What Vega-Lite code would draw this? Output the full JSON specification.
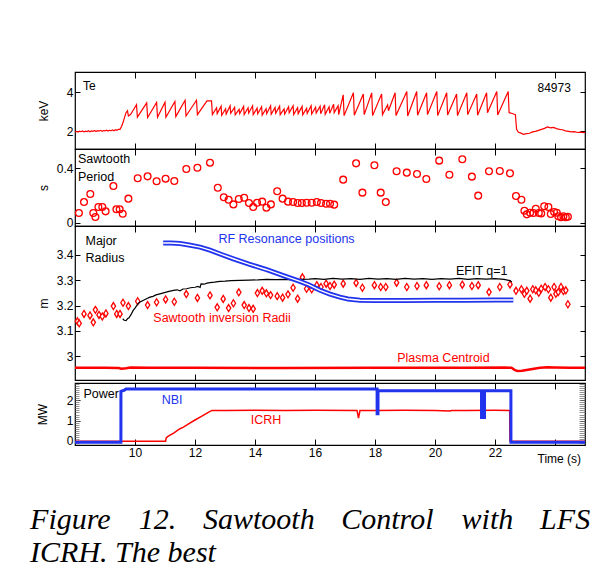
{
  "$schema": "https://vega.github.io/schema/vega-lite/v6.json",
  "padding": {"left": 30, "top": 70, "right": 5, "bottom": 5},
  "background": "white",
  "spacing": 0,
  "bounds": "flush",
  "datasets": {
    "te": [
      {"t":8.00,"v":1.97},{"t":8.05,"v":2.00},{"t":8.10,"v":1.96},{"t":8.15,"v":2.01},{"t":8.20,"v":1.98},{"t":8.25,"v":2.02},{"t":8.30,"v":1.97},{"t":8.35,"v":2.01},{"t":8.40,"v":1.99},{"t":8.45,"v":2.03},{"t":8.50,"v":1.98},{"t":8.55,"v":2.02},{"t":8.60,"v":2.00},{"t":8.65,"v":2.04},{"t":8.70,"v":1.99},{"t":8.75,"v":2.03},{"t":8.80,"v":2.01},{"t":8.85,"v":2.05},{"t":8.90,"v":2.00},{"t":8.95,"v":2.04},{"t":9.00,"v":2.02},{"t":9.05,"v":2.06},{"t":9.10,"v":2.01},{"t":9.15,"v":2.05},{"t":9.20,"v":2.03},{"t":9.25,"v":2.07},{"t":9.30,"v":2.03},{"t":9.35,"v":2.08},{"t":9.40,"v":2.05},{"t":9.45,"v":2.10},{"t":9.50,"v":2.10},
      {"t":9.55,"v":2.25},{"t":9.60,"v":2.45},{"t":9.65,"v":2.70},{"t":9.70,"v":2.95},{"t":9.75,"v":3.05},{"t":9.78,"v":2.78},{"t":9.85,"v":2.85},{"t":9.95,"v":3.10},{"t":10.05,"v":3.36},{"t":10.08,"v":2.72},{"t":10.39,"v":3.45},{"t":10.42,"v":2.70},{"t":10.72,"v":3.47},{"t":10.75,"v":2.72},{"t":11.00,"v":3.48},{"t":11.03,"v":2.72},{"t":11.33,"v":3.52},{"t":11.36,"v":2.75},{"t":11.67,"v":3.58},{"t":11.70,"v":2.78},{"t":12.05,"v":3.58},{"t":12.08,"v":2.85},{"t":12.40,"v":3.55},{"t":12.55,"v":3.55},{"t":12.58,"v":2.85},
      {"t":12.72,"v":3.20},{"t":12.74,"v":2.90},{"t":12.87,"v":3.28},{"t":12.89,"v":2.82},{"t":13.02,"v":3.15},{"t":13.04,"v":2.88},{"t":13.17,"v":3.30},{"t":13.19,"v":2.92},{"t":13.32,"v":3.22},{"t":13.34,"v":2.84},{"t":13.47,"v":3.12},{"t":13.49,"v":2.90},{"t":13.62,"v":3.27},{"t":13.64,"v":2.86},{"t":13.77,"v":3.20},{"t":13.79,"v":2.93},{"t":13.92,"v":3.30},{"t":13.94,"v":2.85},{"t":14.07,"v":3.18},{"t":14.09,"v":2.89},{"t":14.22,"v":3.25},{"t":14.24,"v":2.83},{"t":14.37,"v":3.15},{"t":14.39,"v":2.90},{"t":14.52,"v":3.30},{"t":14.54,"v":2.87},{"t":14.67,"v":3.22},{"t":14.69,"v":2.92},{"t":14.82,"v":3.28},{"t":14.84,"v":2.85},{"t":14.97,"v":3.14},{"t":14.99,"v":2.88},{"t":15.12,"v":3.25},{"t":15.14,"v":2.94},{"t":15.27,"v":3.30},{"t":15.29,"v":2.86},{"t":15.42,"v":3.20},{"t":15.44,"v":2.90},{"t":15.57,"v":3.27},{"t":15.59,"v":2.84},{"t":15.72,"v":3.17},{"t":15.74,"v":2.91},{"t":15.87,"v":3.30},{"t":15.89,"v":2.88},{"t":16.02,"v":3.23},{"t":16.04,"v":2.93},{"t":16.17,"v":3.28},{"t":16.19,"v":2.90},{"t":16.32,"v":3.35},{"t":16.34,"v":2.87},{"t":16.47,"v":3.25},{"t":16.49,"v":2.92},{"t":16.62,"v":3.38},{"t":16.64,"v":2.95},{"t":16.77,"v":3.30},{"t":16.79,"v":2.85},
      {"t":16.94,"v":3.86},{"t":16.97,"v":2.80},{"t":17.28,"v":3.96},{"t":17.31,"v":2.82},{"t":17.61,"v":3.90},{"t":17.64,"v":2.85},{"t":17.89,"v":3.96},{"t":17.92,"v":2.80},{"t":18.22,"v":3.90},{"t":18.25,"v":2.85},{"t":18.42,"v":3.35},{"t":18.45,"v":3.05},{"t":18.67,"v":3.96},{"t":18.70,"v":2.80},{"t":19.06,"v":4.03},{"t":19.09,"v":2.78},{"t":19.39,"v":4.03},{"t":19.42,"v":2.82},{"t":19.72,"v":3.96},{"t":19.75,"v":2.85},{"t":20.06,"v":4.03},{"t":20.09,"v":2.80},{"t":20.39,"v":3.96},{"t":20.42,"v":2.83},{"t":20.72,"v":3.90},{"t":20.75,"v":2.80},{"t":21.06,"v":3.96},{"t":21.09,"v":2.85},{"t":21.39,"v":3.90},{"t":21.42,"v":2.82},{"t":21.72,"v":3.96},{"t":21.75,"v":2.95},{"t":22.06,"v":4.03},{"t":22.09,"v":2.83},{"t":22.44,"v":4.03},{"t":22.47,"v":2.95},
      {"t":22.55,"v":2.92},{"t":22.62,"v":2.88},{"t":22.68,"v":2.85},{"t":22.72,"v":2.10},{"t":22.78,"v":1.95},{"t":22.85,"v":1.92},{"t":22.95,"v":1.85},{"t":23.05,"v":1.88},{"t":23.15,"v":1.90},{"t":23.25,"v":1.97},{"t":23.35,"v":2.00},{"t":23.45,"v":2.05},{"t":23.55,"v":2.10},{"t":23.65,"v":2.15},{"t":23.75,"v":2.22},{"t":23.85,"v":2.18},{"t":23.95,"v":2.20},{"t":24.05,"v":2.14},{"t":24.15,"v":2.10},{"t":24.25,"v":2.08},{"t":24.35,"v":2.02},{"t":24.45,"v":2.00},{"t":24.55,"v":1.97},{"t":24.65,"v":1.98},{"t":24.75,"v":1.94},{"t":24.85,"v":1.96},{"t":24.95,"v":1.93},{"t":25.00,"v":1.95}
    ],
    "period": [
      {"t":8.13,"v":0.071},{"t":8.3,"v":0.151},{"t":8.51,"v":0.21},{"t":8.61,"v":0.071},{"t":8.68,"v":0.042},{"t":8.78,"v":0.115},{"t":8.91,"v":0.115},{"t":9.02,"v":0.083},{"t":9.28,"v":0.268},{"t":9.38,"v":0.098},{"t":9.49,"v":0.098},{"t":9.59,"v":0.066},{"t":9.78,"v":0.176},{"t":10.09,"v":0.325},{"t":10.42,"v":0.339},{"t":10.72,"v":0.303},{"t":11.02,"v":0.322},{"t":11.31,"v":0.305},{"t":11.71,"v":0.393},{"t":12.08,"v":0.402},{"t":12.5,"v":0.439},{"t":12.76,"v":0.256},{"t":12.96,"v":0.186},{"t":13.12,"v":0.168},{"t":13.28,"v":0.134},{"t":13.46,"v":0.173},{"t":13.64,"v":0.183},{"t":13.8,"v":0.144},{"t":13.94,"v":0.115},{"t":14.07,"v":0.146},{"t":14.24,"v":0.154},{"t":14.38,"v":0.11},{"t":14.53,"v":0.134},{"t":14.74,"v":0.23},{"t":14.92,"v":0.176},{"t":15.1,"v":0.154},{"t":15.27,"v":0.151},{"t":15.42,"v":0.144},
      {"t":15.56,"v":0.144},{"t":15.72,"v":0.146},{"t":15.89,"v":0.146},{"t":16.06,"v":0.151},{"t":16.2,"v":0.144},{"t":16.37,"v":0.139},{"t":16.5,"v":0.139},{"t":16.64,"v":0.132},{"t":16.94,"v":0.315},{"t":17.37,"v":0.434},{"t":17.58,"v":0.22},{"t":17.98,"v":0.42},{"t":18.19,"v":0.22},{"t":18.36,"v":0.151},{"t":18.72,"v":0.376},{"t":19.06,"v":0.366},{"t":19.4,"v":0.356},{"t":19.71,"v":0.32},{"t":20.14,"v":0.454},{"t":20.48,"v":0.351},{"t":20.91,"v":0.464},{"t":21.23,"v":0.337},{"t":21.44,"v":0.198},{"t":21.8,"v":0.376},{"t":22.16,"v":0.378},{"t":22.5,"v":0.361},{"t":22.7,"v":0.195},{"t":22.88,"v":0.168},{"t":22.98,"v":0.088},{"t":23.06,"v":0.061},{"t":23.17,"v":0.073},{"t":23.28,"v":0.071},{"t":23.36,"v":0.102},{"t":23.46,"v":0.071},{"t":23.54,"v":0.068},{"t":23.64,"v":0.12},{"t":23.78,"v":0.115},{"t":23.86,"v":0.064},{"t":23.97,"v":0.078},{"t":24.06,"v":0.073},{"t":24.11,"v":0.047},{"t":24.2,"v":0.04},{"t":24.28,"v":0.047},{"t":24.36,"v":0.04},{"t":24.43,"v":0.044}
    ],
    "inv": [
      {"t":8.08,"v":3.138},{"t":8.14,"v":3.13},{"t":8.3,"v":3.167},{"t":8.5,"v":3.161},{"t":8.61,"v":3.134},{"t":8.68,"v":3.183},{"t":8.8,"v":3.163},{"t":8.91,"v":3.157},{"t":9.03,"v":3.169},{"t":9.28,"v":3.198},{"t":9.39,"v":3.167},{"t":9.5,"v":3.167},{"t":9.6,"v":3.211},{"t":9.78,"v":3.198},{"t":10.09,"v":3.217},{"t":10.42,"v":3.202},{"t":10.72,"v":3.213},{"t":11.02,"v":3.224},{"t":11.31,"v":3.215},{"t":11.71,"v":3.245},{"t":12.08,"v":3.23},{"t":12.5,"v":3.24},{"t":12.74,"v":3.193},{"t":12.94,"v":3.226},{"t":13.12,"v":3.19},{"t":13.28,"v":3.209},{"t":13.46,"v":3.252},{"t":13.64,"v":3.202},{"t":13.8,"v":3.19},{"t":13.94,"v":3.187},{"t":14.08,"v":3.249},{"t":14.24,"v":3.258},{"t":14.38,"v":3.248},{"t":14.52,"v":3.241},{"t":14.74,"v":3.237},{"t":14.92,"v":3.231},{"t":15.1,"v":3.244},{"t":15.27,"v":3.27},{"t":15.42,"v":3.227},{"t":15.58,"v":3.311},{"t":15.72,"v":3.266},{"t":15.89,"v":3.264},{"t":16.06,"v":3.28},{"t":16.2,"v":3.273},{"t":16.37,"v":3.286},{"t":16.5,"v":3.277},{"t":16.64,"v":3.282},{"t":16.94,"v":3.286},{"t":17.37,"v":3.289},{"t":17.58,"v":3.27},{"t":17.98,"v":3.28},{"t":18.19,"v":3.273},{"t":18.36,"v":3.273},{"t":18.72,"v":3.29},{"t":19.06,"v":3.273},{"t":19.4,"v":3.277},{"t":19.71,"v":3.28},{"t":20.14,"v":3.276},{"t":20.48,"v":3.28},{"t":20.91,"v":3.282},{"t":21.23,"v":3.277},{"t":21.44,"v":3.28},{"t":21.8,"v":3.253},{"t":22.16,"v":3.273},{"t":22.5,"v":3.283},{"t":22.7,"v":3.258},{"t":22.88,"v":3.264},{"t":22.98,"v":3.246},{"t":23.06,"v":3.258},{"t":23.17,"v":3.227},{"t":23.26,"v":3.264},{"t":23.36,"v":3.26},{"t":23.46,"v":3.25},{"t":23.54,"v":3.266},{"t":23.67,"v":3.273},{"t":23.78,"v":3.264},{"t":23.86,"v":3.231},{"t":23.97,"v":3.273},{"t":24.03,"v":3.246},{"t":24.11,"v":3.253},{"t":24.2,"v":3.273},{"t":24.28,"v":3.257},{"t":24.36,"v":3.26},{"t":24.43,"v":3.205}
    ],
    "efit": [
      {"t":9.59,"v":3.148},{"t":9.64,"v":3.142},{"t":9.7,"v":3.141},{"t":9.75,"v":3.148},{"t":9.8,"v":3.152},{"t":9.87,"v":3.165},{"t":9.94,"v":3.181},{"t":10.0,"v":3.19},{"t":10.1,"v":3.207},{"t":10.17,"v":3.214},{"t":10.3,"v":3.222},{"t":10.4,"v":3.228},{"t":10.5,"v":3.233},{"t":10.6,"v":3.236},{"t":10.7,"v":3.242},{"t":10.83,"v":3.246},{"t":10.95,"v":3.25},{"t":11.1,"v":3.255},{"t":11.28,"v":3.26},{"t":11.4,"v":3.262},{"t":11.5,"v":3.258},{"t":11.6,"v":3.265},{"t":11.72,"v":3.266},{"t":11.85,"v":3.27},{"t":12.0,"v":3.272},{"t":12.1,"v":3.275},{"t":12.17,"v":3.271},{"t":12.2,"v":3.285},{"t":12.3,"v":3.284},{"t":12.4,"v":3.288},{"t":12.5,"v":3.29},{"t":12.65,"v":3.292},{"t":12.83,"v":3.295},{"t":13.0,"v":3.296},{"t":13.2,"v":3.298},{"t":13.5,"v":3.299},{"t":13.8,"v":3.3},{"t":14.1,"v":3.301},{"t":14.39,"v":3.303},{"t":14.7,"v":3.302},{"t":15.0,"v":3.303},{"t":15.3,"v":3.302},{"t":15.5,"v":3.303},{"t":15.8,"v":3.304},{"t":16.0,"v":3.306},{"t":16.3,"v":3.303},{"t":16.6,"v":3.307},{"t":16.9,"v":3.304},{"t":17.2,"v":3.306},{"t":17.5,"v":3.303},{"t":17.8,"v":3.307},{"t":18.1,"v":3.304},{"t":18.4,"v":3.306},{"t":18.7,"v":3.303},{"t":19.0,"v":3.307},{"t":19.3,"v":3.304},{"t":19.6,"v":3.306},{"t":19.9,"v":3.303},{"t":20.2,"v":3.306},{"t":20.5,"v":3.304},{"t":20.8,"v":3.307},{"t":21.1,"v":3.303},{"t":21.4,"v":3.306},{"t":21.7,"v":3.304},{"t":22.0,"v":3.306},{"t":22.3,"v":3.303},{"t":22.5,"v":3.298},{"t":22.56,"v":3.293}
    ],
    "rf": [
      {"t":10.94,"v":3.446},{"t":11.2,"v":3.446},{"t":11.5,"v":3.444},{"t":11.8,"v":3.438},{"t":12.17,"v":3.43},{"t":12.5,"v":3.418},{"t":12.9,"v":3.4},{"t":13.28,"v":3.384},{"t":13.8,"v":3.363},{"t":14.39,"v":3.341},{"t":14.9,"v":3.32},{"t":15.5,"v":3.295},{"t":15.8,"v":3.281},{"t":16.17,"v":3.26},{"t":16.5,"v":3.245},{"t":16.83,"v":3.233},{"t":17.1,"v":3.226},{"t":17.5,"v":3.221},{"t":18.0,"v":3.22},{"t":19.0,"v":3.22},{"t":20.0,"v":3.221},{"t":21.0,"v":3.221},{"t":22.0,"v":3.222},{"t":22.61,"v":3.222}
    ],
    "cent": [
      {"t":8.0,"v":2.955},{"t":9.0,"v":2.955},{"t":9.45,"v":2.954},{"t":9.55,"v":2.951},{"t":9.7,"v":2.953},{"t":9.85,"v":2.956},{"t":10.5,"v":2.955},{"t":12.0,"v":2.955},{"t":15.0,"v":2.954},{"t":18.0,"v":2.955},{"t":21.0,"v":2.955},{"t":22.3,"v":2.956},{"t":22.55,"v":2.955},{"t":22.65,"v":2.947},{"t":22.75,"v":2.942},{"t":22.9,"v":2.943},{"t":23.2,"v":2.949},{"t":23.5,"v":2.955},{"t":23.75,"v":2.957},{"t":24.0,"v":2.956},{"t":24.5,"v":2.955},{"t":25.0,"v":2.955}
    ],
    "nbi": [
      {"t":8.0,"v":-0.06},{"t":9.53,"v":-0.06},{"t":9.531,"v":2.44},{"t":9.65,"v":2.5},{"t":9.7,"v":2.55},{"t":18.07,"v":2.56},{"t":18.071,"v":1.34},{"t":18.1,"v":1.34},{"t":18.101,"v":2.47},{"t":21.55,"v":2.47},{"t":21.551,"v":1.15},{"t":21.58,"v":1.15},{"t":21.581,"v":2.47},{"t":21.62,"v":2.47},{"t":21.621,"v":1.15},{"t":21.65,"v":1.15},{"t":21.651,"v":2.47},{"t":22.53,"v":2.47},{"t":22.531,"v":-0.06},{"t":25.0,"v":-0.06}
    ],
    "icrh": [
      {"t":8.0,"v":-0.02},{"t":11.02,"v":-0.02},{"t":11.04,"v":0.15},{"t":11.1,"v":0.22},{"t":11.3,"v":0.4},{"t":11.5,"v":0.6},{"t":11.6,"v":0.67},{"t":11.8,"v":0.85},{"t":12.0,"v":1.03},{"t":12.2,"v":1.2},{"t":12.4,"v":1.37},{"t":12.56,"v":1.5},{"t":13.0,"v":1.5},{"t":14.0,"v":1.51},{"t":15.0,"v":1.5},{"t":16.0,"v":1.51},{"t":17.4,"v":1.5},{"t":17.45,"v":1.12},{"t":17.5,"v":1.5},{"t":18.0,"v":1.5},{"t":19.0,"v":1.51},{"t":20.0,"v":1.5},{"t":20.5,"v":1.47},{"t":20.55,"v":1.5},{"t":21.0,"v":1.5},{"t":22.0,"v":1.51},{"t":22.49,"v":1.5},{"t":22.5,"v":-0.02},{"t":25.0,"v":-0.02}
    ]
  },
  "vconcat": [
    {
      "width": 510, "height": 77,
      "resolve": {"axis": {"x": "independent", "y": "independent"}},
      "layer": [
        {
          "data": {"name": "te"},
          "mark": {"type": "line", "color": "#ff0000", "strokeWidth": 1.2},
          "encoding": {
            "x": {"field": "t", "type": "quantitative", "scale": {"domain": [8, 25], "nice": false, "zero": false},
                  "axis": {"orient": "bottom", "values": [10,12,14,16,18,20,22,24], "tickSize": -6, "labels": false, "title": null}},
            "y": {"field": "v", "type": "quantitative", "scale": {"domain": [1.1, 5.02], "nice": false, "zero": false},
                  "axis": {"orient": "left", "values": [2,4], "tickSize": -5, "labelPadding": 7, "title": "keV", "titleX": -32, "titleBaseline": "middle"}}
          }
        },
        {
          "data": {"name": "te"},
          "mark": {"type": "line", "opacity": 0},
          "encoding": {
            "x": {"field": "t", "type": "quantitative", "axis": {"orient": "top", "values": [10,12,14,16,18,20,22,24], "tickSize": -6, "labels": false, "title": null}},
            "y": {"field": "v", "type": "quantitative", "axis": {"orient": "right", "values": [2,4], "tickSize": -5, "labels": false, "title": null}}
          }
        },
        {
          "data": {"values": [{"t": 8.27, "v": 4.3, "s": "Te"}]},
          "mark": {"type": "text", "align": "left", "baseline": "middle", "fontSize": 12},
          "encoding": {
            "x": {"field": "t", "type": "quantitative", "axis": null},
            "y": {"field": "v", "type": "quantitative", "axis": null},
            "text": {"field": "s"}
          }
        },
        {
          "data": {"values": [{"t": 24.53, "v": 4.2, "s": "84973"}]},
          "mark": {"type": "text", "align": "right", "baseline": "middle", "fontSize": 12},
          "encoding": {
            "x": {"field": "t", "type": "quantitative", "axis": null},
            "y": {"field": "v", "type": "quantitative", "axis": null},
            "text": {"field": "s"}
          }
        }
      ]
    },
    {
      "width": 510, "height": 77,
      "resolve": {"axis": {"x": "independent", "y": "independent"}},
      "layer": [
        {
          "data": {"name": "period"},
          "mark": {"type": "point", "shape": "circle", "filled": false, "color": "#ff0000", "strokeWidth": 1.3, "size": 46, "opacity": 1},
          "encoding": {
            "x": {"field": "t", "type": "quantitative", "scale": {"domain": [8, 25], "nice": false, "zero": false},
                  "axis": {"orient": "bottom", "values": [10,12,14,16,18,20,22,24], "tickSize": -6, "labels": false, "title": null}},
            "y": {"field": "v", "type": "quantitative", "scale": {"domain": [-0.024, 0.539], "nice": false, "zero": false},
                  "axis": {"orient": "left", "values": [0, 0.4], "format": "~g", "tickSize": -5, "labelPadding": 7, "title": "s", "titleX": -32, "titleBaseline": "middle"}}
          }
        },
        {
          "data": {"name": "period"},
          "mark": {"type": "point", "opacity": 0},
          "encoding": {
            "x": {"field": "t", "type": "quantitative", "axis": {"orient": "top", "values": [10,12,14,16,18,20,22,24], "tickSize": -6, "labels": false, "title": null}},
            "y": {"field": "v", "type": "quantitative", "axis": {"orient": "right", "values": [0, 0.4], "tickSize": -5, "labels": false, "title": null}}
          }
        },
        {
          "data": {"values": [{"t": 8.1, "v": 0.466, "s": "Sawtooth"}, {"t": 8.1, "v": 0.336, "s": "Period"}]},
          "mark": {"type": "text", "align": "left", "baseline": "middle", "fontSize": 12.5},
          "encoding": {
            "x": {"field": "t", "type": "quantitative", "axis": null},
            "y": {"field": "v", "type": "quantitative", "axis": null},
            "text": {"field": "s"}
          }
        }
      ]
    },
    {
      "width": 510, "height": 154,
      "resolve": {"axis": {"x": "independent", "y": "independent"}},
      "layer": [
        {
          "data": {"name": "cent"},
          "mark": {"type": "line", "color": "#ff0000", "strokeWidth": 2.5},
          "encoding": {
            "x": {"field": "t", "type": "quantitative", "scale": {"domain": [8, 25], "nice": false, "zero": false},
                  "axis": {"orient": "bottom", "values": [10,12,14,16,18,20,22,24], "tickSize": -6, "labels": false, "title": null}},
            "y": {"field": "v", "type": "quantitative", "scale": {"domain": [2.907, 3.513], "nice": false, "zero": false},
                  "axis": {"orient": "left", "values": [3, 3.1, 3.2, 3.3, 3.4], "format": "~g", "tickSize": -5, "labelPadding": 7, "title": "m", "titleX": -32, "titleBaseline": "middle"}}
          }
        },
        {
          "data": {"name": "inv"},
          "mark": {"type": "point", "shape": "M0,-1L0.62,0L0,1L-0.62,0Z", "filled": true, "fill": "white", "stroke": "#ff0000", "strokeWidth": 1.3, "size": 49, "opacity": 1},
          "encoding": {
            "x": {"field": "t", "type": "quantitative", "axis": {"orient": "top", "values": [10,12,14,16,18,20,22,24], "tickSize": -6, "labels": false, "title": null}},
            "y": {"field": "v", "type": "quantitative", "axis": {"orient": "right", "values": [3, 3.1, 3.2, 3.3, 3.4], "tickSize": -5, "labels": false, "title": null}}
          }
        },
        {
          "data": {"name": "efit"},
          "mark": {"type": "line", "color": "black", "strokeWidth": 1.2},
          "encoding": {
            "x": {"field": "t", "type": "quantitative", "axis": null},
            "y": {"field": "v", "type": "quantitative", "axis": null}
          }
        },
        {
          "data": {"name": "rf"},
          "mark": {"type": "line", "color": "#2233ee", "strokeWidth": 5},
          "encoding": {
            "x": {"field": "t", "type": "quantitative", "axis": null},
            "y": {"field": "v", "type": "quantitative", "axis": null}
          }
        },
        {
          "data": {"name": "rf"},
          "mark": {"type": "line", "color": "white", "strokeWidth": 1.4},
          "encoding": {
            "x": {"field": "t", "type": "quantitative", "axis": null},
            "y": {"field": "v", "type": "quantitative", "axis": null}
          }
        },
        {
          "data": {"values": [
            {"t": 8.35, "v": 3.453, "s": "Major", "c": "black"},
            {"t": 8.35, "v": 3.387, "s": "Radius", "c": "black"},
            {"t": 12.78, "v": 3.463, "s": "RF Resonance positions", "c": "blue"},
            {"t": 20.7, "v": 3.335, "s": "EFIT q=1", "c": "black"},
            {"t": 10.61, "v": 3.151, "s": "Sawtooth inversion Radii", "c": "red"},
            {"t": 18.74, "v": 2.993, "s": "Plasma Centroid", "c": "red"}
          ]},
          "mark": {"type": "text", "align": "left", "baseline": "middle", "fontSize": 12.5},
          "encoding": {
            "x": {"field": "t", "type": "quantitative", "axis": null},
            "y": {"field": "v", "type": "quantitative", "axis": null},
            "text": {"field": "s"},
            "color": {"field": "c", "type": "nominal", "scale": {"domain": ["black", "blue", "red"], "range": ["#000000", "#2233ee", "#ff0000"]}, "legend": null}
          }
        }
      ]
    },
    {
      "width": 510, "height": 3,
      "view": {"stroke": null},
      "data": {"values": [{"a": 1}]},
      "mark": {"type": "point", "opacity": 0},
      "encoding": {}
    },
    {
      "width": 510, "height": 62,
      "resolve": {"axis": {"x": "independent", "y": "independent"}},
      "layer": [
        {
          "data": {"name": "icrh"},
          "mark": {"type": "line", "color": "#ff0000", "strokeWidth": 1.5},
          "encoding": {
            "x": {"field": "t", "type": "quantitative", "scale": {"domain": [8, 25], "nice": false, "zero": false},
                  "axis": {"orient": "bottom", "values": [10,12,14,16,18,20,22,24], "tickSize": -6, "labelPadding": 8, "labelExpr": "datum.value == 24 ? '' : datum.label", "title": null}},
            "y": {"field": "v", "type": "quantitative", "scale": {"domain": [-0.2, 2.85], "nice": false, "zero": false},
                  "axis": {"orient": "left", "values": [0, 1, 2], "tickSize": -5, "labelPadding": 7, "title": "MW", "titleX": -33, "titleBaseline": "middle"}}
          }
        },
        {
          "data": {"name": "nbi"},
          "mark": {"type": "line", "color": "#2233ee", "strokeWidth": 3},
          "encoding": {
            "x": {"field": "t", "type": "quantitative", "axis": {"orient": "top", "values": [10,12,14,16,18,20,22,24], "tickSize": -6, "labels": false, "title": null}},
            "y": {"field": "v", "type": "quantitative", "axis": {"orient": "right", "values": [0, 1, 2], "tickSize": -5, "labels": false, "title": null}}
          }
        },
        {
          "data": {"name": "nbi"},
          "mark": {"type": "line", "opacity": 0},
          "encoding": {
            "x": {"field": "t", "type": "quantitative", "axis": null},
            "y": {"field": "v", "type": "quantitative", "axis": {"orient": "left", "values": [-0.1,0,0.1,0.2,0.3,0.4,0.5,0.6,0.7,0.8,0.9,1,1.1,1.2,1.3,1.4,1.5,1.6,1.7,1.8,1.9,2,2.1,2.2,2.3,2.4,2.5,2.6,2.7,2.8], "tickSize": -4, "tickColor": "#777777", "tickWidth": 0.8, "labels": false, "title": null}}
          }
        },
        {
          "data": {"name": "nbi"},
          "mark": {"type": "line", "opacity": 0},
          "encoding": {
            "x": {"field": "t", "type": "quantitative", "axis": null},
            "y": {"field": "v", "type": "quantitative", "axis": {"orient": "right", "values": [-0.1,0,0.1,0.2,0.3,0.4,0.5,0.6,0.7,0.8,0.9,1,1.1,1.2,1.3,1.4,1.5,1.6,1.7,1.8,1.9,2,2.1,2.2,2.3,2.4,2.5,2.6,2.7,2.8], "tickSize": -6, "tickColor": "#777777", "tickWidth": 0.8, "labels": false, "title": null}}
          }
        },
        {
          "data": {"values": [
            {"t": 8.28, "v": 2.3, "s": "Power", "c": "black"},
            {"t": 10.89, "v": 2.0, "s": "NBI", "c": "blue"},
            {"t": 13.86, "v": 1.02, "s": "ICRH", "c": "red"}
          ]},
          "mark": {"type": "text", "align": "left", "baseline": "middle", "fontSize": 12.5},
          "encoding": {
            "x": {"field": "t", "type": "quantitative", "axis": null},
            "y": {"field": "v", "type": "quantitative", "axis": null},
            "text": {"field": "s"},
            "color": {"field": "c", "type": "nominal", "scale": {"domain": ["black", "blue", "red"], "range": ["#000000", "#2233ee", "#ff0000"]}, "legend": null}
          }
        },
        {
          "data": {"values": [{"t": 24.87, "v": -0.87, "s": "Time (s)"}]},
          "mark": {"type": "text", "align": "right", "baseline": "middle", "fontSize": 12},
          "encoding": {
            "x": {"field": "t", "type": "quantitative", "axis": null},
            "y": {"field": "v", "type": "quantitative", "axis": null},
            "text": {"field": "s"}
          }
        }
      ]
    },
    {
      "width": 510, "height": 133,
      "view": {"stroke": null},
      "data": {"values": [
        {"w": "Figure", "p": -0.088, "l": 1},
        {"w": "12.", "p": 0.125, "l": 1},
        {"w": "Sawtooth", "p": 0.251, "l": 1},
        {"w": "Control", "p": 0.522, "l": 1},
        {"w": "with", "p": 0.758, "l": 1},
        {"w": "LFS", "p": 0.912, "l": 1},
        {"w": "ICRH. The best", "p": -0.088, "l": 2}
      ]},
      "mark": {"type": "text", "font": "Liberation Serif", "fontStyle": "italic", "fontSize": 30, "align": "left", "baseline": "middle", "color": "black"},
      "encoding": {
        "x": {"field": "p", "type": "quantitative", "scale": {"domain": [0, 1], "nice": false, "zero": false}, "axis": null},
        "y": {"field": "l", "type": "quantitative", "scale": {"domain": [-1.273, 2.758], "reverse": true, "nice": false, "zero": false}, "axis": null},
        "text": {"field": "w"}
      }
    }
  ],
  "config": {
    "font": "Liberation Sans",
    "view": {"stroke": "black", "strokeWidth": 1.2},
    "axis": {"domain": false, "grid": false, "tickColor": "black", "tickWidth": 1, "labelFont": "Liberation Sans", "labelFontSize": 12, "labelColor": "black", "titleFont": "Liberation Sans", "titleFontSize": 12, "titleFontWeight": "normal", "titleColor": "black"},
    "text": {"font": "Liberation Sans"}
  }
}
